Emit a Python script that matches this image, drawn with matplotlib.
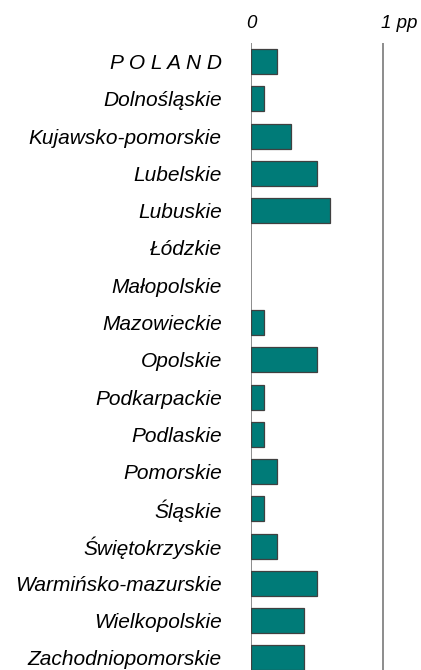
import matplotlib
matplotlib.use("Agg")
import matplotlib.pyplot as plt

regions = ["P O L A N D", "Dolnośląskie", "Kujawsko-pomorskie", "Lubelskie", "Lubuskie",
           "Łódzkie", "Małopolskie", "Mazowieckie", "Opolskie", "Podkarpackie",
           "Podlaskie", "Pomorskie", "Śląskie", "Świętokrzyskie",
           "Warmińsko-mazurskie", "Wielkopolskie", "Zachodniopomorskie"]
values = [0.2, 0.1, 0.3, 0.5, 0.6, 0.0, 0.0, 0.1, 0.5, 0.1, 0.1, 0.2, 0.1, 0.2, 0.5, 0.4, 0.4]
top_labels = ["0", "1 pp"]
top_positions = [0, 1]

W, H = 421, 670
fig = plt.figure(figsize=(W / 100, H / 100), dpi=100)
left_px, zero_px, one_px = 251, 251, 382.7
scale = one_px - zero_px
xmax = (W - 1 - zero_px) / scale
top_px, bottom_px = 43, 676.6
ax = fig.add_axes([left_px / W, 1 - bottom_px / H, (W - 1 - left_px) / W, (bottom_px - top_px) / H])

font = "Liberation Sans"
ypos = list(range(len(regions)))
edges = ["#404040" if v > 0 else "none" for v in values]
ax.barh(ypos, values, height=0.67, color="#007b78", edgecolor=edges, linewidth=0.9, zorder=3)
ax.axvline(0, color="#8c8c8c", linewidth=1.4, zorder=2)
ax.axvline(1, color="#8c8c8c", linewidth=1.4, zorder=2)

ax.set_xlim(0, xmax)
ax.set_ylim(len(regions) - 0.5, -0.5)
ax.set_yticks(ypos)
ax.set_yticklabels(regions, fontsize=15, style="italic", family=font)
ax.tick_params(axis="y", length=0, pad=21)
ax.set_xticks([])
for s in ax.spines.values():
    s.set_visible(False)

for lab, pos in zip(top_labels, top_positions):
    ha = "center" if pos == 0 else "left"
    off = 0 if pos == 0 else -2
    ax.annotate(lab, xy=(pos, 1), xycoords=("data", "axes fraction"),
                xytext=(off, 20), textcoords="offset pixels", ha=ha, va="center",
                fontsize=13.5, style="italic", family=font)

fig.savefig("out.png", dpi=100)
